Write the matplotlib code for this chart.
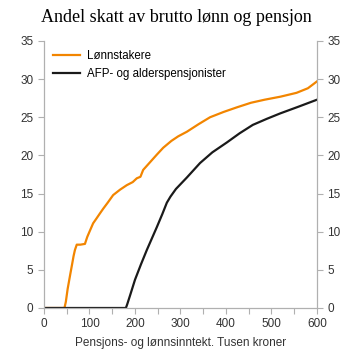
import matplotlib
matplotlib.use("Agg")
import matplotlib.pyplot as plt
import numpy as np

# inntekt (tusen kroner) og andel skatt (prosent)
lonn_x = [0, 45, 48, 52, 55, 58, 62, 65, 68, 72, 80, 90, 95, 100, 108, 115, 123, 130,
          140, 152, 167, 182, 195, 204, 212, 218, 233, 248, 262, 280, 295, 314,
          340, 365, 395, 424, 455, 485, 520, 555, 580, 600]
lonn_y = [0, 0, 0.8, 2.5, 3.5, 4.5, 5.8, 6.8, 7.6, 8.3, 8.3, 8.4, 9.3, 10.0, 11.1, 11.7,
          12.4, 13.0, 13.8, 14.8, 15.5, 16.1, 16.5, 17.0, 17.2, 18.1, 19.1, 20.1,
          21.0, 21.9, 22.5, 23.1, 24.1, 25.0, 25.7, 26.3, 26.9, 27.3, 27.7, 28.2, 28.8, 29.7]

pens_x = [0, 180, 183, 190, 200, 213, 226, 237, 248, 260, 270, 278, 290, 314, 343, 370,
          402, 430, 459, 490, 519, 560, 600]
pens_y = [0, 0, 0.5, 1.8, 3.7, 5.7, 7.6, 9.1, 10.6, 12.3, 13.8, 14.6, 15.6, 17.1, 19.0,
          20.4, 21.7, 22.9, 24.0, 24.8, 25.5, 26.4, 27.3]

yticks = [0, 5, 10, 15, 20, 25, 30, 35]
xticks = [0, 100, 200, 300, 400, 500, 600]

plt.rcParams['font.family'] = ['Liberation Sans', 'DejaVu Sans']

fig = plt.figure(figsize=(3.53, 3.53), dpi=100)
ax = fig.add_axes([0.1246, 0.1275, 0.7734, 0.7565])

ax.plot(lonn_x, lonn_y, color='#f28500', lw=1.6, label='Lønnstakere')
ax.plot(pens_x, pens_y, color='#1a1a1a', lw=1.6, label='AFP- og alderspensjonister')

ax.set_xlim(0, 600)
ax.set_ylim(0, 35)
ax.set_xticks(xticks)
ax.set_xticks(np.arange(50, 600, 100), minor=True)
ax.set_yticks(yticks)

ax2 = ax.twinx()
ax2.set_ylim(0, 35)
ax2.set_yticks(yticks)

for a in (ax, ax2):
    a.spines['top'].set_visible(False)
    for s in ('left', 'right', 'bottom'):
        a.spines[s].set_color('#b0b0b0')
        a.spines[s].set_linewidth(0.8)
    a.tick_params(colors='#b0b0b0', labelcolor='#333333', labelsize=8.5, length=4, width=0.8)
ax.tick_params(which='minor', colors='#b0b0b0', length=4, width=0.8)

ax.set_xlabel('Pensjons- og lønnsinntekt. Tusen kroner', fontsize=8.5, color='#333333', labelpad=5)
fig.suptitle('Andel skatt av brutto lønn og pensjon', fontsize=13, family='Liberation Serif',
             y=0.975)

ax.legend(loc='upper left', frameon=False, fontsize=8.3, handlelength=2.4,
          borderaxespad=0.35, labelspacing=0.55, handletextpad=0.6)

fig.savefig('out.png', dpi=100)
